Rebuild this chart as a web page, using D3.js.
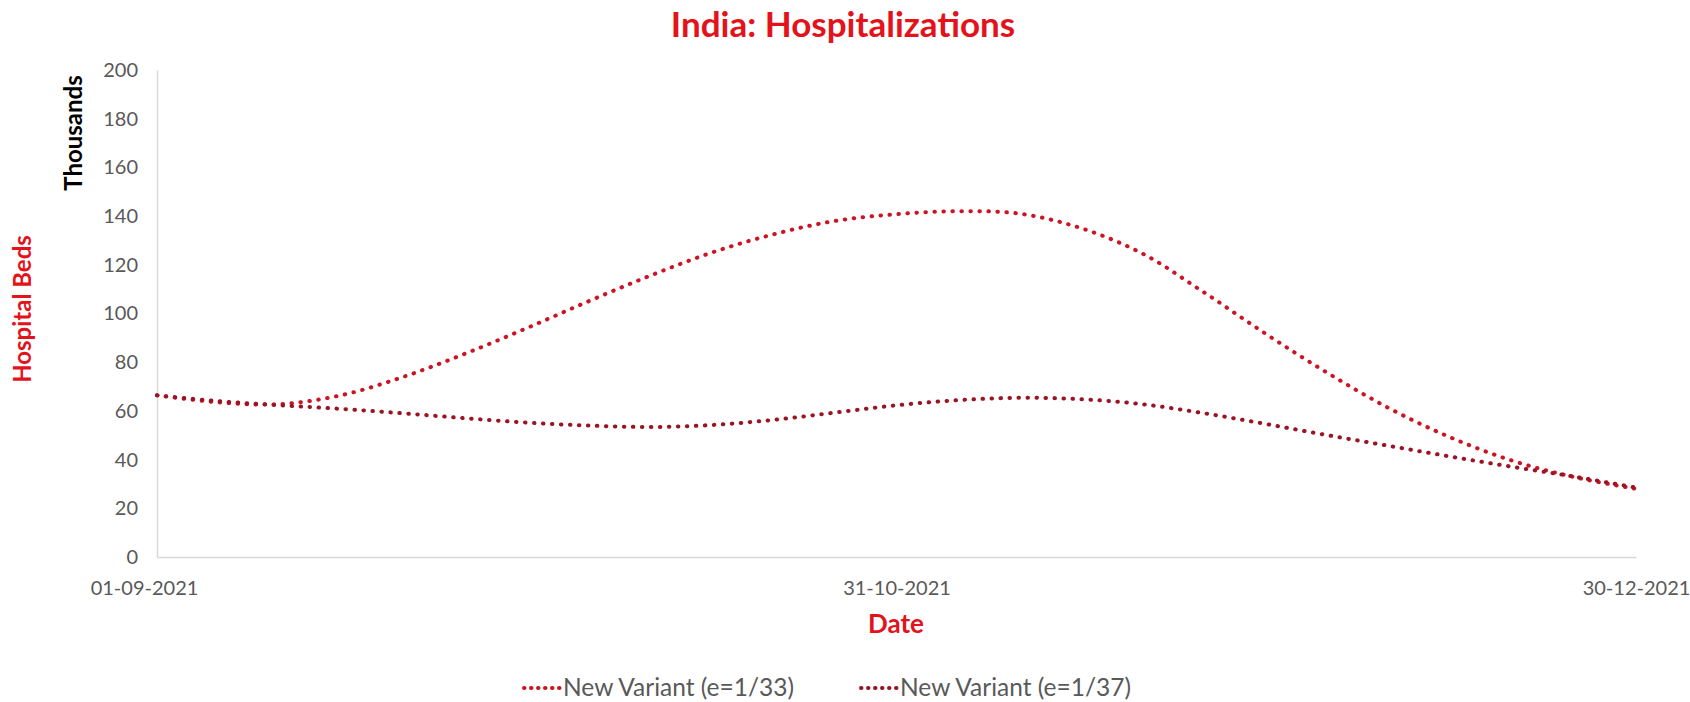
<!DOCTYPE html>
<html>
<head>
<meta charset="utf-8">
<script src="https://cdn.jsdelivr.net/npm/d3@7"></script>
<style>
  html, body { margin: 0; padding: 0; background: #fff; }
  svg { display: block; font-family: Lato, "Open Sans", sans-serif; }
</style>
</head>
<body>
<svg id="chart" width="1690" height="702"></svg>
<script>
// Dates sampled every 5 days (dd-mm-yyyy)
const dates = ["01-09-2021","06-09-2021","11-09-2021","16-09-2021","21-09-2021","26-09-2021",
               "01-10-2021","06-10-2021","11-10-2021","16-10-2021","21-10-2021","26-10-2021",
               "31-10-2021","05-11-2021","10-11-2021","15-11-2021","20-11-2021","25-11-2021",
               "30-11-2021","05-12-2021","10-12-2021","15-12-2021","20-12-2021","25-12-2021",
               "30-12-2021"];
// Hospital beds, thousands
const variant33 = [66.4, 63.5, 62.8, 66.5, 74, 83.5, 94, 105, 115.5, 125, 132.5, 138,
                   140.8, 142, 141, 135, 124.5, 108.5, 91.5, 75.5, 61, 49, 39.5, 32.8, 28];
const variant37 = [66.4, 64, 62.3, 60.8, 59, 57, 55.2, 54, 53.4, 54.2, 56.3, 59.3,
                   62.3, 64.4, 65.4, 64.8, 62.7, 59, 54.6, 50, 45.6, 41.2, 37, 33, 28.5];
const seriesNames = ["New Variant (e=1/33)", "New Variant (e=1/37)"];
const xTickLabels = ["01-09-2021", "31-10-2021", "30-12-2021"];
const yTicks = [0, 20, 40, 60, 80, 100, 120, 140, 160, 180, 200];

const parse = d3.timeParse("%d-%m-%Y");
const fmt = d3.timeFormat("%d-%m-%Y");
const seriesColors = ["#cc1424", "#9a1424"];

const svg = d3.select("#chart");
const plotLeft = 157, plotRight = 1636, plotTop = 70, plotBottom = 557;

const x = d3.scaleTime()
  .domain([parse(xTickLabels[0]), parse(xTickLabels[2])])
  .range([plotLeft, plotRight]);
const y = d3.scaleLinear().domain([0, 200]).range([plotBottom, plotTop]);

// Title
svg.append("text")
  .attr("x", 843).attr("y", 37)
  .attr("text-anchor", "middle")
  .attr("font-size", 35).attr("font-weight", "bold")
  .attr("fill", "#e3121b")
  .text("India: Hospitalizations");

// Y axis
const yAxis = svg.append("g")
  .attr("transform", `translate(${plotLeft},0)`)
  .call(d3.axisLeft(y).tickValues(yTicks).tickSize(0).tickPadding(19));
yAxis.select(".domain").attr("stroke", "#d9d9d9").attr("stroke-width", 1.5);
yAxis.selectAll("text").attr("font-size", 20).attr("fill", "#595959")
  .attr("font-family", "Lato, sans-serif");

// X axis
const xAxis = svg.append("g")
  .attr("transform", `translate(0,${plotBottom})`)
  .call(d3.axisBottom(x).tickValues(xTickLabels.map(parse)).tickFormat(fmt)
    .tickSize(0).tickPadding(24));
xAxis.select(".domain").attr("stroke", "#d9d9d9").attr("stroke-width", 1.5);
xAxis.selectAll("text").attr("font-size", 20).attr("fill", "#595959")
  .attr("font-family", "Lato, sans-serif");
xAxis.selectAll(".tick").filter((d, i) => i === 0)
  .select("text").attr("dx", -13);

// Axis titles
svg.append("text")
  .attr("x", 896).attr("y", 633)
  .attr("text-anchor", "middle")
  .attr("font-size", 26).attr("font-weight", "bold").attr("fill", "#e3121b")
  .text("Date");
svg.append("text")
  .attr("transform", "translate(31,309) rotate(-90)")
  .attr("text-anchor", "middle")
  .attr("font-size", 24).attr("font-weight", "bold").attr("fill", "#e3121b")
  .text("Hospital Beds");
svg.append("text")
  .attr("transform", "translate(82,133) rotate(-90)")
  .attr("text-anchor", "middle")
  .attr("font-size", 24).attr("font-weight", "bold").attr("fill", "#000")
  .text("Thousands");

// Lines
const line = d3.line()
  .x((d, i) => x(parse(dates[i])))
  .y(d => y(d))
  .curve(d3.curveCatmullRom.alpha(0.5));

[variant33, variant37].forEach((vals, k) => {
  svg.append("path")
    .datum(vals)
    .attr("d", line)
    .attr("fill", "none")
    .attr("stroke", seriesColors[k])
    .attr("stroke-width", 4)
    .attr("stroke-linecap", "round")
    .attr("stroke-dasharray", "0.5 8.5");
});

// Legend
const legendX = [524, 861];
seriesNames.forEach((name, k) => {
  const g = svg.append("g").attr("transform", `translate(${legendX[k]},688)`);
  g.append("line")
    .attr("x1", 0).attr("x2", 36).attr("y1", 0).attr("y2", 0)
    .attr("stroke", seriesColors[k]).attr("stroke-width", 4)
    .attr("stroke-linecap", "round").attr("stroke-dasharray", "0.5 6.5");
  g.append("text")
    .attr("x", 39).attr("y", 8)
    .attr("font-size", 24.5).attr("font-family", "Lato, sans-serif")
    .attr("fill", "#595959")
    .text(name);
});
</script>
</body>
</html>
